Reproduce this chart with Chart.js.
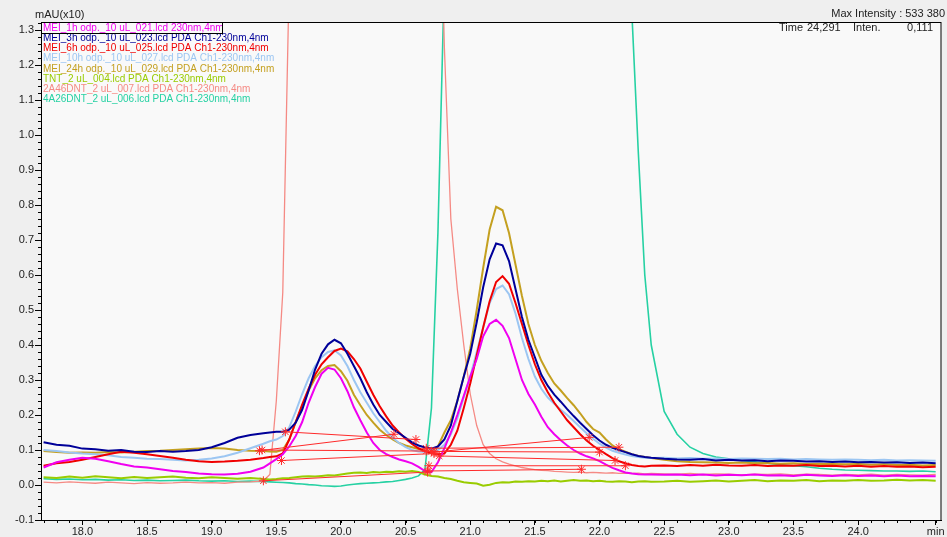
<!DOCTYPE html>
<html>
<head>
<meta charset="utf-8">
<script src="https://cdn.jsdelivr.net/npm/chart.js@4.4.1/dist/chart.umd.min.js"></script>
<style>
  html, body { margin: 0; padding: 0; background: #efefef; }
  canvas { display: block; }
</style>
</head>
<body>
<canvas id="myChart" width="947" height="537"></canvas>
<script>
const FONT = "'Liberation Sans', Arial, sans-serif";

// retention time (min)
const times = [
  17.7, 17.8, 17.9, 18.0, 18.1, 18.2, 18.3, 18.4, 18.5, 18.6,
  18.7, 18.8, 18.9, 19.0, 19.1, 19.2, 19.3, 19.4, 19.45, 19.5,
  19.55, 19.6, 19.65, 19.7, 19.75, 19.8, 19.85, 19.9, 19.95, 20.0,
  20.05, 20.1, 20.15, 20.2, 20.25, 20.3, 20.35, 20.4, 20.45, 20.5,
  20.55, 20.6, 20.65, 20.7, 20.75, 20.8, 20.85, 20.9, 20.95, 21.0,
  21.05, 21.1, 21.15, 21.2, 21.25, 21.3, 21.35, 21.4, 21.45, 21.5,
  21.55, 21.6, 21.65, 21.7, 21.75, 21.8, 21.85, 21.9, 21.95, 22.0,
  22.05, 22.1, 22.15, 22.2, 22.25, 22.3, 22.35, 22.4, 22.5, 22.6,
  22.7, 22.8, 22.9, 23.0, 23.1, 23.2, 23.3, 23.4, 23.5, 23.6,
  23.7, 23.8, 23.9, 24.0, 24.1, 24.2, 24.3, 24.4, 24.5, 24.6
];

// mAU(x10)
const mei1h = [
  0.050, 0.065, 0.072, 0.078, 0.075, 0.068, 0.060, 0.053, 0.050, 0.045,
  0.040, 0.037, 0.033, 0.031, 0.030, 0.032, 0.038, 0.050, 0.062, 0.074,
  0.088, 0.110, 0.140, 0.180, 0.235, 0.280, 0.318, 0.335, 0.330, 0.305,
  0.268, 0.222, 0.185, 0.150, 0.120, 0.100, 0.088, 0.080, 0.073, 0.068,
  0.062, 0.052, 0.040, 0.037, 0.065, 0.105, 0.150, 0.200, 0.255, 0.310,
  0.360, 0.425, 0.460, 0.472, 0.455, 0.420, 0.360, 0.300, 0.260, 0.230,
  0.195, 0.165, 0.145, 0.128, 0.113, 0.100, 0.090, 0.082, 0.076, 0.068,
  0.058, 0.049, 0.042, 0.036, 0.033, 0.031, 0.030, 0.030, 0.029, 0.030,
  0.028, 0.030, 0.027, 0.029, 0.028, 0.030, 0.027, 0.028, 0.026, 0.029,
  0.027, 0.026, 0.028, 0.026, 0.027, 0.025, 0.027, 0.025, 0.026, 0.025
];
const mei3h = [
  0.122, 0.115, 0.112, 0.104, 0.102, 0.098, 0.100, 0.095, 0.094, 0.097,
  0.095, 0.097, 0.100, 0.108, 0.120, 0.135, 0.143, 0.148, 0.150, 0.152,
  0.152, 0.158, 0.178, 0.215, 0.270, 0.330, 0.375, 0.402, 0.415, 0.405,
  0.375, 0.340, 0.305, 0.265, 0.230, 0.200, 0.180, 0.160, 0.148, 0.135,
  0.122, 0.113, 0.107, 0.104, 0.110, 0.130, 0.170, 0.240, 0.310, 0.375,
  0.465, 0.565, 0.645, 0.690, 0.685, 0.640, 0.560, 0.480, 0.415, 0.365,
  0.315, 0.283, 0.258, 0.238, 0.217, 0.197, 0.178, 0.160, 0.142, 0.127,
  0.115, 0.106, 0.100, 0.094, 0.088, 0.083, 0.080, 0.078, 0.075, 0.073,
  0.072, 0.074, 0.070, 0.072, 0.070, 0.071, 0.068, 0.070, 0.069, 0.067,
  0.068, 0.066, 0.067, 0.065, 0.066, 0.064, 0.065, 0.063, 0.064, 0.062
];
const mei6h = [
  0.055, 0.062, 0.066, 0.072, 0.080, 0.088, 0.095, 0.092, 0.088, 0.083,
  0.078, 0.072, 0.068, 0.066, 0.067, 0.069, 0.072, 0.077, 0.080, 0.082,
  0.090, 0.130, 0.180, 0.230, 0.275, 0.315, 0.345, 0.365, 0.383, 0.390,
  0.382, 0.360, 0.333, 0.295, 0.258, 0.225, 0.196, 0.170, 0.150, 0.132,
  0.117, 0.105, 0.097, 0.091, 0.088, 0.090, 0.115, 0.155, 0.220, 0.290,
  0.370, 0.450, 0.525, 0.580, 0.597, 0.575, 0.520, 0.460, 0.400, 0.345,
  0.300, 0.265, 0.235, 0.210, 0.185, 0.165, 0.145, 0.127, 0.112, 0.100,
  0.088, 0.077, 0.068, 0.062, 0.057, 0.054, 0.053, 0.055, 0.056, 0.054,
  0.057, 0.055, 0.058, 0.056, 0.055, 0.057, 0.054, 0.056, 0.055, 0.057,
  0.054, 0.055, 0.053, 0.055, 0.052, 0.054, 0.052, 0.053, 0.051, 0.052
];
const mei10h = [
  0.100, 0.097, 0.093, 0.090, 0.088, 0.085, 0.080, 0.078, 0.075, 0.074,
  0.072, 0.070, 0.072, 0.076, 0.082, 0.092, 0.105, 0.118, 0.125, 0.130,
  0.140, 0.165, 0.210, 0.260, 0.305, 0.340, 0.365, 0.380, 0.385, 0.370,
  0.340, 0.300, 0.265, 0.235, 0.205, 0.180, 0.155, 0.135, 0.120, 0.108,
  0.100, 0.096, 0.094, 0.095, 0.100, 0.115, 0.145, 0.190, 0.250, 0.310,
  0.380, 0.450, 0.520, 0.560, 0.570, 0.545, 0.490, 0.420, 0.360, 0.310,
  0.275, 0.250, 0.232, 0.215, 0.200, 0.183, 0.165, 0.148, 0.132, 0.118,
  0.107, 0.098, 0.092, 0.087, 0.083, 0.080, 0.078, 0.077, 0.078, 0.076,
  0.077, 0.075, 0.076, 0.074, 0.076, 0.075, 0.074, 0.075, 0.073, 0.074,
  0.073, 0.072, 0.073, 0.072, 0.071, 0.072, 0.070, 0.071, 0.070, 0.069
];
const mei24h = [
  0.097, 0.094, 0.092, 0.093, 0.092, 0.094, 0.093, 0.095, 0.097, 0.098,
  0.100, 0.102, 0.104, 0.106, 0.104, 0.100, 0.098, 0.097, 0.096, 0.095,
  0.100, 0.130, 0.180, 0.225, 0.270, 0.305, 0.328, 0.340, 0.343, 0.325,
  0.298, 0.258, 0.228, 0.200, 0.178, 0.158, 0.143, 0.130, 0.120, 0.113,
  0.108, 0.103, 0.097, 0.094, 0.110, 0.150, 0.185, 0.240, 0.310, 0.390,
  0.500, 0.620, 0.730, 0.795, 0.785, 0.720, 0.630, 0.540, 0.460, 0.400,
  0.355, 0.320, 0.290, 0.270, 0.248, 0.228, 0.205, 0.180, 0.160, 0.150,
  0.130, 0.113, 0.102, 0.095, 0.088, 0.083, 0.080, 0.077, 0.072, 0.068,
  0.066, 0.065, 0.064, 0.063, 0.064, 0.062, 0.063, 0.061, 0.062, 0.060,
  0.061, 0.060, 0.059, 0.060, 0.058, 0.059, 0.057, 0.058, 0.056, 0.057
];
const tnt = [
  0.022, 0.020, 0.024, 0.021, 0.025, 0.022, 0.019, 0.023, 0.020, 0.022,
  0.024, 0.021, 0.019, 0.022, 0.020, 0.018, 0.020, 0.017, 0.016, 0.017,
  0.019, 0.020, 0.022, 0.024, 0.025, 0.024, 0.026, 0.028, 0.027, 0.030,
  0.033, 0.035, 0.036, 0.034, 0.037, 0.036, 0.038, 0.037, 0.039, 0.038,
  0.040, 0.037, 0.030, 0.026, 0.024, 0.020, 0.017, 0.012, 0.008, 0.006,
  0.004, -0.002, 0.001, 0.006, 0.008, 0.007, 0.010, 0.009, 0.011, 0.010,
  0.012, 0.011, 0.013, 0.010, 0.012, 0.014, 0.012, 0.013, 0.011, 0.012,
  0.010, 0.009, 0.011, 0.010, 0.008, 0.010, 0.011, 0.009, 0.010, 0.012,
  0.009, 0.011, 0.013, 0.010, 0.012, 0.014, 0.011, 0.013, 0.012, 0.014,
  0.011, 0.013, 0.012, 0.014, 0.012, 0.013, 0.015, 0.013, 0.014, 0.012
];
const dnt246 = [
  0.008, 0.006, 0.009, 0.007, 0.005, 0.008, 0.006, 0.004, 0.007, 0.005,
  0.006, 0.008, 0.006, 0.007, 0.005, 0.008, 0.009, 0.012, 0.030, 0.240,
  0.550, 1.450, 2.600, 3.600, 4.400, 5.000, 5.400, 5.600, 5.700, 5.600,
  5.400, 5.100, 4.800, 4.500, 4.200, 3.900, 3.600, 3.400, 3.200, 3.000,
  2.800, 2.600, 2.450, 2.300, 2.000, 1.250, 0.760, 0.560, 0.400, 0.260,
  0.170, 0.115, 0.090, 0.075, 0.066, 0.060, 0.055, 0.050, 0.047, 0.044,
  0.042, 0.041, 0.039, 0.038, 0.037, 0.036, 0.037, 0.035, 0.036, 0.035,
  0.034, 0.035, 0.033, 0.034, 0.033, 0.034, 0.032, 0.033, 0.032, 0.031,
  0.033, 0.030, 0.032, 0.031, 0.029, 0.031, 0.030, 0.032, 0.029, 0.031,
  0.030, 0.028, 0.030, 0.029, 0.031, 0.028, 0.030, 0.029, 0.028, 0.030
];
const dnt426 = [
  0.018, 0.016, 0.017, 0.015, 0.016, 0.014, 0.015, 0.013, 0.014, 0.012,
  0.013, 0.014, 0.012, 0.011, 0.012, 0.010, 0.011, 0.010, 0.009, 0.008,
  0.007, 0.006, 0.004, 0.003, 0.001, 0.000, -0.002, -0.003, -0.004, -0.003,
  0.000, 0.002, 0.004, 0.005, 0.006, 0.007, 0.009, 0.010, 0.013, 0.016,
  0.020, 0.026, 0.045, 0.220, 0.720, 1.450, 2.200, 2.900, 3.400, 3.700,
  3.900, 4.100, 4.200, 4.200, 4.100, 4.000, 3.900, 3.700, 3.500, 3.300,
  3.100, 2.900, 2.700, 2.500, 2.350, 2.200, 2.050, 1.950, 1.850, 1.750,
  1.680, 1.600, 1.520, 1.440, 1.350, 0.950, 0.600, 0.400, 0.210, 0.145,
  0.108, 0.090, 0.080, 0.075, 0.070, 0.066, 0.062, 0.058, 0.055, 0.052,
  0.048, 0.045, 0.043, 0.042, 0.041, 0.040, 0.040, 0.039, 0.040, 0.038
];

// integration baselines (start / end of each peak)
const baseStartT = [19.57, 19.37, 19.39, 19.54, 19.40, 20.66, 20.72, 20.76, 20.70, 20.67, 20.68];
const baseStartV = [0.152, 0.098, 0.100, 0.070, 0.012, 0.105, 0.094, 0.083, 0.096, 0.040, 0.055];
const baseEndT   = [20.58, 20.41, 20.66, 20.72, 20.67, 22.15, 21.92, 22.12, 22.00, 21.86, 22.20];
const baseEndV   = [0.130, 0.145, 0.097, 0.090, 0.037, 0.108, 0.136, 0.070, 0.094, 0.045, 0.055];

const seriesNames = [
  "MEI_1h odp._10 uL_021.lcd 230nm,4nm",
  "MEI_3h odp._10 uL_023.lcd PDA Ch1-230nm,4nm",
  "MEI_6h odp._10 uL_025.lcd PDA Ch1-230nm,4nm",
  "MEI_10h odp._10 uL_027.lcd PDA Ch1-230nm,4nm",
  "MEI_24h odp._10 uL_029.lcd PDA Ch1-230nm,4nm",
  "TNT_2 uL_004.lcd PDA Ch1-230nm,4nm",
  "2A46DNT_2 uL_007.lcd PDA Ch1-230nm,4nm",
  "4A26DNT_2 uL_006.lcd PDA Ch1-230nm,4nm"
];
const seriesValues = [mei1h, mei3h, mei6h, mei10h, mei24h, tnt, dnt246, dnt426];
const COLOR = ["#f000f0", "#000099", "#f00000", "#9cc6f2", "#c4a020", "#99cc00", "#f58a84", "#26d1a3"];
const WIDTH = [2, 2, 2, 2, 2, 2, 1.3, 1.6];

const xTicks = [18.0, 18.5, 19.0, 19.5, 20.0, 20.5, 21.0, 21.5, 22.0, 22.5, 23.0, 23.5, 24.0, 24.6];
const xTickLabels = ["18.0", "18.5", "19.0", "19.5", "20.0", "20.5", "21.0", "21.5", "22.0", "22.5", "23.0", "23.5", "24.0", "min"];
const yTicks = [-0.1, 0.0, 0.1, 0.2, 0.3, 0.4, 0.5, 0.6, 0.7, 0.8, 0.9, 1.0, 1.1, 1.2, 1.3];
const yTickLabels = ["-0.1", "0.0", "0.1", "0.2", "0.3", "0.4", "0.5", "0.6", "0.7", "0.8", "0.9", "1.0", "1.1", "1.2", "1.3"];

const datasets = seriesValues.map((vals, i) => ({
  label: seriesNames[i],
  data: times.map((t, j) => ({ x: t, y: vals[j] })),
  borderColor: COLOR[i],
  borderWidth: WIDTH[i],
  pointRadius: 0,
  tension: 0,
  order: 1,
}));
baseStartT.forEach((t, i) => {
  datasets.push({
    label: "baseline",
    isBaseline: true,
    data: [{ x: t, y: baseStartV[i] }, { x: baseEndT[i], y: baseEndV[i] }],
    borderColor: "#ff2a2a",
    borderWidth: 1,
    pointStyle: "star",
    pointRadius: 4.5,
    pointBorderColor: "#ff2a2a",
    pointBorderWidth: 1,
    order: 0,
  });
});

const decor = {
  id: "decor",
  beforeDraw(chart) {
    const { ctx, chartArea: a } = chart;
    ctx.save();
    ctx.fillStyle = "#f9f9f9";
    ctx.fillRect(a.left, a.top, a.right - a.left, a.bottom - a.top);
    ctx.restore();
  },
  afterDraw(chart) {
    const { ctx, chartArea: a } = chart;
    const xs = chart.scales.x, ys = chart.scales.y;
    ctx.save();
    // frame
    ctx.strokeStyle = "#000";
    ctx.lineWidth = 1;
    ctx.strokeRect(a.left + 0.5, a.top + 0.5, a.right - a.left - 1, a.bottom - a.top);
    // minor ticks
    ctx.beginPath();
    for (let i = 177; i <= 246; i++) {
      const px = Math.round(xs.getPixelForValue(i / 10)) + 0.5;
      ctx.moveTo(px, a.bottom);
      ctx.lineTo(px, a.bottom + 3);
    }
    for (let i = -5; i <= 66; i++) {
      const py = Math.round(ys.getPixelForValue(i * 0.02)) + 0.5;
      ctx.moveTo(a.left, py);
      ctx.lineTo(a.left - 3, py);
    }
    ctx.stroke();
    // texts
    ctx.font = "11px " + FONT;
    ctx.fillStyle = "#222";
    ctx.textBaseline = "middle";
    ctx.textAlign = "left";
    ctx.fillText("mAU(x10)", 35, 15);
    ctx.textAlign = "right";
    ctx.fillText("Max Intensity : 533 380", 945, 14);
    ctx.fillText("0,111", 933, 28);
    ctx.textAlign = "left";
    ctx.fillText("Time", 779, 28);
    ctx.fillText("24,291", 807, 28);
    ctx.fillText("Inten.", 853, 28);
    // legend
    ctx.font = "10px " + FONT;
    chart.data.datasets.filter(d => !d.isBaseline).forEach((d, i) => {
      ctx.fillStyle = d.borderColor;
      ctx.fillText(d.label, 43, 28 + i * 10.2);
    });
    ctx.strokeStyle = "#000";
    ctx.strokeRect(41.5, 22.5, 181, 11);
    ctx.restore();
  }
};

Chart.defaults.font.family = FONT;

new Chart(document.getElementById("myChart"), {
  type: "line",
  data: { datasets },
  options: {
    responsive: false,
    animation: false,
    devicePixelRatio: 1,
    layout: { padding: { top: 22, right: 3, left: 0, bottom: 0 } },
    plugins: { legend: { display: false }, tooltip: { enabled: false } },
    scales: {
      x: {
        type: "linear",
        min: 17.68,
        max: 24.645,
        afterBuildTicks: (s) => { s.ticks = xTicks.map(v => ({ value: v })); },
        afterFit: (s) => { s.height = 17; },
        ticks: {
          autoSkip: false,
          maxRotation: 0,
          padding: 0,
          color: "#222",
          font: { size: 11 },
          callback: (v, i) => xTickLabels[i],
        },
        grid: { drawOnChartArea: false, drawTicks: true, tickLength: 5, color: "#000" },
        border: { display: true, color: "#000" },
      },
      y: {
        min: -0.1,
        max: 1.323,
        afterBuildTicks: (s) => { s.ticks = yTicks.map(v => ({ value: v })); },
        afterFit: (s) => { s.width = 41; },
        ticks: {
          autoSkip: false,
          padding: 1,
          color: "#222",
          font: { size: 11 },
          callback: (v, i) => yTickLabels[i],
        },
        grid: { drawOnChartArea: false, drawTicks: true, tickLength: 6, color: "#000" },
        border: { display: true, color: "#000" },
      },
    },
  },
  plugins: [decor],
});
</script>
</body>
</html>
